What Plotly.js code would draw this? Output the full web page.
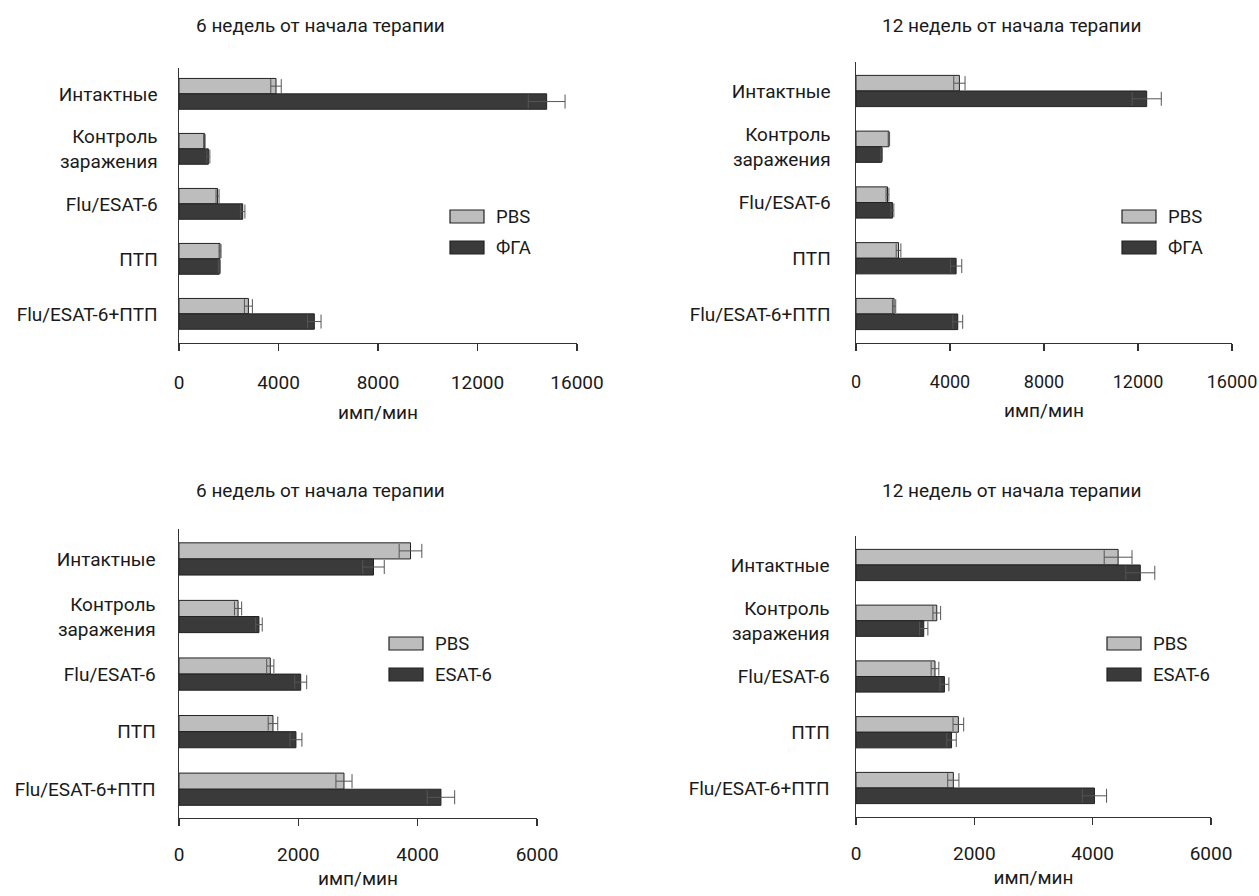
<!DOCTYPE html>
<html>
<head>
<meta charset="utf-8">
<script src="https://cdn.plot.ly/plotly-3.0.1.min.js"></script>
<style>html,body{margin:0;padding:0;background:#fff;}#chart{width:1259px;height:896px;}</style>
</head>
<body>
<div id="chart"></div>
<script>
// ---- data ----
const categories = ['Интактные', 'Контроль<br>заражения', 'Flu/ESAT-6', 'ПТП', 'Flu/ESAT-6+ПТП'];

// 6 weeks, PBS vs ФГА
const pbs6a = [3900, 1020, 1550, 1650, 2790];
const pbs6aErr = [210, 30, 60, 40, 160];
const fga6 = [14780, 1180, 2560, 1620, 5440];
const fga6Err = [740, 60, 90, 40, 270];

// 12 weeks, PBS vs ФГА
const pbs12a = [4400, 1400, 1340, 1810, 1620];
const pbs12aErr = [240, 30, 60, 100, 70];
const fga12 = [12370, 1090, 1550, 4260, 4330];
const fga12Err = [620, 30, 60, 240, 210];

// 6 weeks, PBS vs ESAT-6
const pbs6b = [3880, 990, 1530, 1575, 2765];
const pbs6bErr = [190, 60, 60, 80, 135];
const esat6 = [3260, 1340, 2040, 1960, 4390];
const esat6Err = [180, 55, 100, 100, 230];

// 12 weeks, PBS vs ESAT-6
const pbs12b = [4430, 1365, 1335, 1730, 1645];
const pbs12bErr = [235, 65, 65, 90, 95];
const esat12 = [4805, 1145, 1495, 1615, 4030];
const esat12Err = [245, 70, 75, 80, 205];

const panelTitles = ['6 недель от начала терапии', '12 недель от начала терапии', '6 недель от начала терапии', '12 недель от начала терапии'];
const seriesNames = [['PBS', 'ФГА'], ['PBS', 'ФГА'], ['PBS', 'ESAT-6'], ['PBS', 'ESAT-6']];
const xTicks = [[0, 4000, 8000, 12000, 16000], [0, 4000, 8000, 12000, 16000], [0, 2000, 4000, 6000], [0, 2000, 4000, 6000]];
const xTitle = 'имп/мин';

// ---- styling ----
const W = 1259, H = 896;
const LIGHT = '#bdbdbd', DARK = '#3a3a3a', EDGE = '#222222', ERR = '#555555';
const FONT = 'Roboto, "Noto Sans", sans-serif';
const TXT = '#1a1a1a';
const FS = 19;
const px = x => x / W;
const py = y => 1 - y / H;

const panels = [
  {a: pbs6a, ae: pbs6aErr, b: fga6, be: fga6Err, xd: [179, 577], yd: [68, 343], yr: [4.53, -0.47], title: [320, 26], leg: [450, 210], tls: 15, ts: 12, yls: 16, tfs: 19},
  {a: pbs12a, ae: pbs12aErr, b: fga12, be: fga12Err, xd: [856, 1232], yd: [62, 343], yr: [4.52, -0.52], title: [1012, 26], leg: [1122, 210], tls: 15, ts: 12, yls: 20, tfs: 18},
  {a: pbs6b, ae: pbs6bErr, b: esat6, be: esat6Err, xd: [179, 537], yd: [529, 818], yr: [4.5, -0.52], title: [320, 490], leg: [389, 637], tls: 12, ts: 6, yls: 18, tfs: 19},
  {a: pbs12b, ae: pbs12bErr, b: esat12, be: esat12Err, xd: [856, 1211], yd: [536, 817], yr: [4.52, -0.52], title: [1012, 490], leg: [1107, 637], tls: 12, ts: 6, yls: 21, tfs: 19}
];

const traces = [];
const layout = {
  width: W, height: H,
  margin: {l: 0, r: 0, t: 0, b: 0},
  paper_bgcolor: '#fff', plot_bgcolor: '#fff',
  showlegend: false,
  barmode: 'group', bargap: 0.44, bargroupgap: 0,
  font: {family: FONT, size: FS, color: TXT},
  annotations: [], shapes: []
};

panels.forEach((p, i) => {
  const n = i === 0 ? '' : String(i + 1);
  const xa = 'x' + n, ya = 'y' + n;
  const mk = (vals, errs, color, name) => ({
    type: 'bar', orientation: 'h', name: name,
    x: vals, y: categories, xaxis: xa, yaxis: ya,
    marker: {color: color, line: {color: EDGE, width: 1}},
    error_x: {type: 'data', array: errs, visible: true, color: ERR, thickness: 1, width: 7},
    hoverinfo: 'x+y'
  });
  traces.push(mk(p.a, p.ae, LIGHT, seriesNames[i][0]));
  traces.push(mk(p.b, p.be, DARK, seriesNames[i][1]));
  const xt = xTicks[i];
  layout['xaxis' + n] = {
    anchor: ya, domain: [px(p.xd[0]), px(p.xd[1])],
    range: [xt[0], xt[xt.length - 1]], tickvals: xt, ticktext: xt.map(String),
    showgrid: false, zeroline: false, showline: true, linecolor: '#333', linewidth: 1.3,
    ticks: 'outside', ticklen: 7, tickwidth: 1.3, tickcolor: '#333',
    ticklabelstandoff: p.tls, ticklabeloverflow: 'allow',
    tickfont: {family: FONT, size: p.tfs, color: TXT},
    title: {text: xTitle, standoff: p.ts, font: {family: FONT, size: FS, color: TXT}},
    fixedrange: true
  };
  layout['yaxis' + n] = {
    anchor: xa, domain: [py(p.yd[1]), py(p.yd[0])],
    type: 'category', range: p.yr,
    showgrid: false, zeroline: false, showline: true, linecolor: '#333', linewidth: 1.5,
    ticks: '', ticklabelstandoff: p.yls,
    tickfont: {family: FONT, size: FS, color: TXT},
    fixedrange: true
  };
  layout.annotations.push({
    xref: 'paper', yref: 'paper', x: px(p.title[0]), y: py(p.title[1]),
    xanchor: 'center', yanchor: 'middle', showarrow: false,
    text: panelTitles[i], font: {family: FONT, size: FS, color: TXT}
  });
  // legend swatches and labels
  [[LIGHT, seriesNames[i][0]], [DARK, seriesNames[i][1]]].forEach((it, k) => {
    const x0 = p.leg[0], y0 = p.leg[1] + k * 31;
    layout.shapes.push({type: 'rect', xref: 'paper', yref: 'paper',
      x0: px(x0), x1: px(x0 + 34), y0: py(y0 + 13), y1: py(y0),
      fillcolor: it[0], line: {color: EDGE, width: 1.2}});
    layout.annotations.push({xref: 'paper', yref: 'paper', x: px(x0 + 44), y: py(y0 + 6.5),
      xanchor: 'left', yanchor: 'middle', showarrow: false, text: it[1],
      font: {family: FONT, size: 18.5, color: TXT}});
  });
});

Plotly.newPlot('chart', traces, layout, {displayModeBar: false, staticPlot: true});
</script>
</body>
</html>
